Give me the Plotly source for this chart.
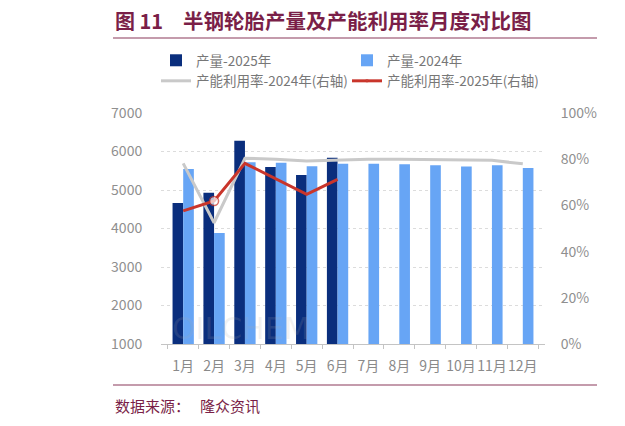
import plotly.graph_objects as go

months = ["1月", "2月", "3月", "4月", "5月", "6月", "7月", "8月", "9月", "10月", "11月", "12月"]
prod_2025 = [4660, 4930, 6280, 5600, 5390, 5840, None, None, None, None, None, None]
prod_2024 = [5545, 3880, 5720, 5710, 5620, 5680, 5680, 5670, 5640, 5610, 5640, 5570]
util_2024 = [0.782, 0.525, 0.804, 0.800, 0.792, 0.797, 0.800, 0.800, 0.798, 0.798, 0.795, 0.780]
util_2025 = [0.576, 0.619, 0.782, 0.714, 0.648, 0.713, None, None, None, None, None, None]
util_2025_marker = [0, 9, 0, 0, 0, 0, 0, 0, 0, 0, 0, 0]

left_ticks = [1000, 2000, 3000, 4000, 5000, 6000, 7000]
right_ticks = [0, 0.2, 0.4, 0.6, 0.8, 1.0]

DARK = "#0a2e7d"
LIGHT = "#67a5f5"
GRAY = "#c9c9c9"
RED = "#c9352b"
MAROON = "#7a1f48"
FONT = "Noto Sans CJK SC"

fig = go.Figure()
fig.add_trace(go.Bar(x=months, y=prod_2025, name="产量-2025年", marker_color=DARK, marker_line_width=0))
fig.add_trace(go.Bar(x=months, y=prod_2024, name="产量-2024年", marker_color=LIGHT, marker_line_width=0))
fig.add_trace(go.Scatter(x=months, y=util_2024, name="产能利用率-2024年(右轴)", yaxis="y2",
                         mode="lines", line=dict(color=GRAY, width=3)))
fig.add_trace(go.Scatter(x=months, y=util_2025, name="产能利用率-2025年(右轴)", yaxis="y2",
                         mode="lines+markers", line=dict(color=RED, width=3),
                         marker=dict(size=util_2025_marker, color="white", line=dict(color=RED, width=1.5))))

L, R, T, B = 161, 545, 113, 344
W, H = 625, 426
pw, ph = R - L, B - T

def px(x):
    return (x - L) / pw

def py(y):
    return (B - y) / ph

fig.update_layout(
    width=W, height=H,
    margin=dict(l=L, r=W - R, t=T, b=H - B, pad=0, autoexpand=False),
    paper_bgcolor="white", plot_bgcolor="white",
    font=dict(family=FONT, color="#8a8a8a", size=13),
    barmode="group", bargap=0.31, bargroupgap=0,
    showlegend=True,
    legend=dict(orientation="h", x=px(156), y=py(45), xanchor="left", yanchor="top",
                entrywidth=146, entrywidthmode="pixels", traceorder="normal",
                font=dict(size=13.5, color="#777777"), itemwidth=30,
                bgcolor="rgba(0,0,0,0)", tracegroupgap=0),
    xaxis=dict(showgrid=False, showline=True, linecolor="#c4c4c4", linewidth=1,
               ticks="outside", tickson="boundaries", ticklen=4, tickcolor="#c4c4c4",
               tickangle=0, automargin=False, ticklabelstandoff=9,
               tickfont=dict(size=14, color="#8a8a8a"), fixedrange=True),
    yaxis=dict(range=[1000, 7000], tickvals=left_ticks, showgrid=True,
               gridcolor="#dcdcdc", griddash="dot", gridwidth=1, zeroline=False,
               ticks="outside", ticklen=15, tickcolor="rgba(0,0,0,0)", automargin=False,
               tickfont=dict(size=14, color="#8f8f8f"), showline=False),
    yaxis2=dict(range=[0, 1.0], tickvals=right_ticks, tickformat=".0%", overlaying="y",
                side="right", showgrid=False, zeroline=False, automargin=False,
                ticks="outside", ticklen=12, tickcolor="rgba(0,0,0,0)",
                tickfont=dict(size=14, color="#8f8f8f"), showline=False),
)

annotations = [
    dict(text="<b>图 11</b>", x=px(113), y=py(20), xref="paper", yref="paper",
         xanchor="left", yanchor="middle", showarrow=False,
         font=dict(family=FONT, size=20, color=MAROON)),
    dict(text="<b>半钢轮胎产量及产能利用率月度对比图</b>", x=px(181), y=py(20), xref="paper", yref="paper",
         xanchor="left", yanchor="middle", showarrow=False,
         font=dict(family=FONT, size=20.5, color=MAROON)),
    dict(text="数据来源：   隆众资讯", x=px(113), y=py(405), xref="paper", yref="paper",
         xanchor="left", yanchor="middle", showarrow=False,
         font=dict(family=FONT, size=15, color=MAROON)),
    dict(text="OILCHEM", x=px(170), y=py(328), xref="paper", yref="paper",
         xanchor="left", yanchor="middle", showarrow=False,
         font=dict(family="DejaVu Sans", size=30, color="rgba(170,170,170,0.16)")),
]
fig.update_layout(annotations=annotations)

fig.update_layout(shapes=[
    dict(type="line", xref="paper", yref="paper", x0=px(113), x1=px(597), y0=py(38), y1=py(38),
         line=dict(color="#b07a90", width=1.5)),
    dict(type="line", xref="paper", yref="paper", x0=px(113), x1=px(597), y0=py(385), y1=py(385),
         line=dict(color="#b07a90", width=1.5)),
])

fig.write_html("out.html", config={"displayModeBar": False},
               post_script="document.body.style.margin='0';document.body.style.overflow='hidden';")
